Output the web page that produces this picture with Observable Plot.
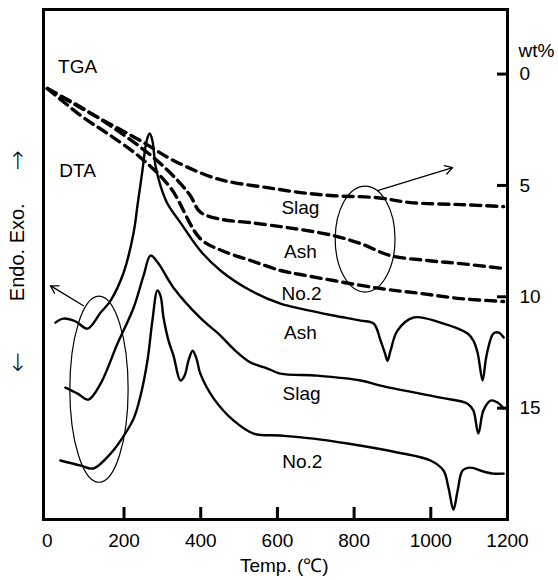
<!DOCTYPE html>
<html><head><meta charset="utf-8">
<script src="https://cdn.jsdelivr.net/npm/d3@7"></script>
<script src="https://cdn.jsdelivr.net/npm/@observablehq/plot@0.6"></script>
<style>
html,body{margin:0;padding:0;background:#fff;}
#chart svg{display:block;}
</style></head><body><div id="chart"></div>
<script>
// ---- tick values ----
const xTicks = [0, 200, 400, 600, 800, 1000, 1200];
const xInnerTicks = [200, 400, 600, 800, 1000];
const wtTicks = [0, 5, 10, 15];

// ---- TGA curves: [temperature °C, weight loss wt%] ----
const tgaSlag = [[0,0.65],[68,1.33],[157,2.18],[243,2.99],[329,3.88],[433,4.65],[486,4.87],[574,5.10],[660,5.32],[746,5.46],[861,5.55],[947,5.77],[1078,5.86],[1190,5.95]];
const tgaAsh = [[0,0.65],[94,1.55],[183,2.54],[277,3.75],[340,4.78],[373,5.46],[399,6.20],[456,6.53],[530,6.67],[608,6.85],[660,6.98],[746,7.25],[817,7.61],[895,8.15],[991,8.37],[1078,8.51],[1190,8.73]];
const tgaNo2 = [[0,0.65],[94,1.95],[157,2.67],[243,3.75],[321,5.10],[399,7.39],[456,7.93],[530,8.37],[608,8.82],[660,9.00],[746,9.27],[869,9.63],[973,9.85],[1078,10.08],[1190,10.21]];

// ---- DTA curves: [temperature °C, signal (arb., plotted on same vertical scale)] ----
const dtaAsh = [[21,11.16],[42,10.98],[74,11.11],[105,11.43],[139,10.71],[165,10.17],[199,8.91],[225,7.12],[235,5.91],[248,4.33],[259,2.99],[267,2.67],[274,2.99],[282,4.11],[295,5.01],[313,5.81],[347,6.67],[399,7.93],[452,8.83],[530,9.72],[608,10.31],[660,10.53],[746,10.84],[817,11.07],[851,11.20],[869,11.97],[880,12.51],[887,12.87],[895,12.42],[913,11.52],[955,10.93],[1025,11.16],[1096,11.65],[1111,11.97],[1122,12.51],[1135,13.76],[1143,12.87],[1148,12.42],[1163,11.65],[1177,11.61],[1190,11.83]];
const dtaSlag = [[47,14.08],[79,14.35],[107,14.62],[139,13.90],[183,12.10],[225,10.49],[251,9.05],[269,8.15],[288,8.46],[329,9.59],[399,10.95],[452,11.75],[486,12.35],[530,12.95],[574,13.22],[608,13.45],[704,13.54],[817,13.76],[869,13.99],[1025,14.53],[1096,14.80],[1111,15.11],[1124,16.14],[1137,15.11],[1156,14.66],[1174,14.75],[1190,15.02]];
const dtaNo2 = [[34,17.35],[87,17.58],[120,17.71],[165,17.04],[191,16.46],[225,15.47],[243,14.44],[261,12.87],[274,11.07],[287,9.72],[295,9.95],[303,10.93],[316,11.97],[329,12.64],[347,13.76],[358,13.54],[368,12.87],[379,12.42],[389,12.78],[399,13.45],[434,14.57],[486,15.56],[538,16.14],[608,16.23],[694,16.37],[783,16.59],[913,16.99],[999,17.35],[1033,17.80],[1046,18.57],[1059,19.56],[1070,18.70],[1083,17.80],[1103,17.67],[1138,17.85],[1164,17.94],[1190,17.94]];

// ---- labels ----
const curveLabels = [
  {label: "Slag", t: 660, v: 5.99},
  {label: "Ash",  t: 660, v: 7.97},
  {label: "No.2", t: 663, v: 9.86},
  {label: "Ash",  t: 660, v: 11.61},
  {label: "Slag", t: 663, v: 14.35},
  {label: "No.2", t: 665, v: 17.40},
  {label: "TGA",  t: 79,  v: -0.34},
  {label: "DTA",  t: 79,  v: 4.33}
];

// ---- annotation ellipses & arrows ----
const ellipseNotes = [
  {t: 136, v: 14.17, dt: 76, dv: 4.18},
  {t: 830, v: 7.43, dt: 78, dv: 2.38}
];
const arrowNotes = [
  {t1: 861, v1: 5.23, t2: 1057, v2: 4.20},
  {t1: 94, v1: 10.40, t2: 8, v2: 9.50}
];

const series = [
  {name: "TGA Slag", kind: "TGA", pts: tgaSlag},
  {name: "TGA Ash", kind: "TGA", pts: tgaAsh},
  {name: "TGA No.2", kind: "TGA", pts: tgaNo2},
  {name: "DTA Ash", kind: "DTA", pts: dtaAsh},
  {name: "DTA Slag", kind: "DTA", pts: dtaSlag},
  {name: "DTA No.2", kind: "DTA", pts: dtaNo2}
];
const rows = series.flatMap(s => s.pts.map(([t, v]) => ({name: s.name, kind: s.kind, t, v})));

const FONT = "'Liberation Sans', Arial, Helvetica, sans-serif";

function ellipseMark(index, scales) {
  const ns = "http://www.w3.org/2000/svg";
  const g = document.createElementNS(ns, "g");
  for (const e of ellipseNotes) {
    const cx = scales.x(e.t), cy = scales.y(e.v);
    const el = document.createElementNS(ns, "ellipse");
    el.setAttribute("cx", cx);
    el.setAttribute("cy", cy);
    el.setAttribute("rx", Math.abs(scales.x(e.t + e.dt) - cx));
    el.setAttribute("ry", Math.abs(scales.y(e.v + e.dv) - cy));
    el.setAttribute("fill", "none");
    el.setAttribute("stroke", "#000");
    el.setAttribute("stroke-width", 1.2);
    g.appendChild(el);
  }
  return g;
}

const chart = Plot.plot({
  width: 558,
  height: 580,
  marginLeft: 43,
  marginRight: 51,
  marginTop: 9,
  marginBottom: 61,
  style: {fontFamily: FONT, fontSize: "19px", color: "#000", background: "#fff"},
  x: {domain: [-10, 1200]},
  y: {domain: [-2.9, 20], reverse: true},
  marks: [
    Plot.line(rows.filter(d => d.kind === "TGA"), {x: "t", y: "v", z: "name", stroke: "#000", strokeWidth: 3.4, strokeDasharray: "10,6", curve: "catmull-rom"}),
    Plot.line(rows.filter(d => d.kind === "DTA"), {x: "t", y: "v", z: "name", stroke: "#000", strokeWidth: 2.4, curve: "catmull-rom"}),
    ellipseMark,
    Plot.arrow(arrowNotes, {x1: "t1", y1: "v1", x2: "t2", y2: "v2", stroke: "#000", strokeWidth: 1.3, headLength: 10}),
    Plot.text(curveLabels, {x: "t", y: "v", text: "label", fontSize: 19, fill: "#000"}),
    // inner tick marks
    Plot.ruleX(xInnerTicks, {stroke: "#000", strokeWidth: 3, insetTop: 498}),
    Plot.ruleY(wtTicks, {stroke: "#000", strokeWidth: 3, insetLeft: 454}),
    // tick labels
    Plot.axisX(xTicks, {tickSize: 0, tickPadding: 14, fontSize: 19, label: null, tickFormat: d => String(d)}),
    Plot.axisY(wtTicks, {anchor: "right", tickSize: 0, tickPadding: 12, fontSize: 19, label: null, tickFormat: d => String(d)}),
    Plot.text(["wt%"], {x: 1200, y: -1.06, dx: 11, textAnchor: "start", fontSize: 19}),
    Plot.text(["Temp. (℃)"], {x: 618, y: 22.1, fontSize: 19}),
    Plot.text(["Endo. Exo."], {x: -78, y: 8.0, rotate: -90, fontSize: 20}),
    Plot.text(["↑"], {x: -78, y: 3.9, fontSize: 24, fontFamily: "'DejaVu Sans', sans-serif", fontWeight: 200}),
    Plot.text(["↓"], {x: -78, y: 13.0, fontSize: 24, fontFamily: "'DejaVu Sans', sans-serif", fontWeight: 200}),
    Plot.frame({stroke: "#000", strokeWidth: 3})
  ]
});
document.getElementById("chart").appendChild(chart);
</script>
</body></html>
